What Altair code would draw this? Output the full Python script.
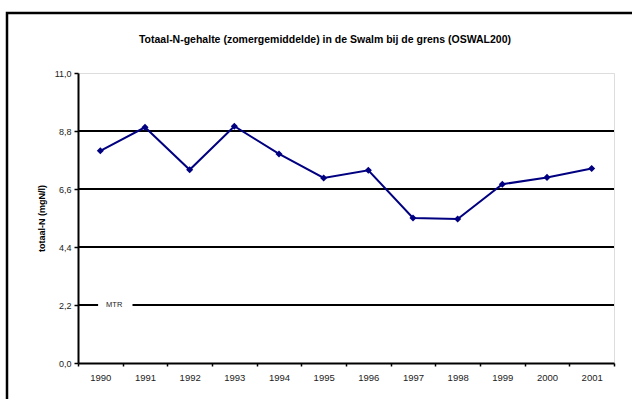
import altair as alt
import pandas as pd

# Summer-average total nitrogen in the Swalm at the border (OSWAL200)
years = [1990, 1991, 1992, 1993, 1994, 1995, 1996, 1997, 1998, 1999, 2000, 2001]
totaal_n = [8.05, 8.94, 7.33, 8.98, 7.93, 7.02, 7.31, 5.50, 5.46, 6.78, 7.04, 7.38]

y_ticks = [0.0, 2.2, 4.4, 6.6, 8.8, 11.0]
gridlines = [4.4, 6.6, 8.8]
mtr_value = 2.2
mtr_label = "MTR"

NAVY = "#000080"
FONT = "Liberation Sans"
PLOT_W = 536
PLOT_H = 290

df = pd.DataFrame({"jaar": years, "totaalN": totaal_n})

x_domain = [years[0] - 0.5, years[-1] + 0.5]
# ticks sit on the category boundaries; each label is shifted back half a category
x_values = [y + 0.5 for y in [years[0] - 1] + years]
half_band = PLOT_W / len(years) / 2

x_enc = alt.X(
    "jaar:Q",
    scale=alt.Scale(domain=x_domain, nice=False, zero=False),
    axis=alt.Axis(
        title=None,
        values=x_values,
        labelExpr=f"datum.value < {years[0]} ? '' : format(datum.value - 0.5, 'd')",
        labelOffset=-half_band,
        labelOverlap=False,
        labelFlush=False,
        labelFont=FONT,
        labelFontSize=9.5,
        labelColor="#222222",
        labelPadding=6,
        tickColor="black",
        tickSize=3,
        tickWidth=1.5,
        domainColor="black",
        domainWidth=2,
        grid=False,
    ),
)

y_enc = alt.Y(
    "totaalN:Q",
    scale=alt.Scale(domain=[0, 11], nice=False, zero=True),
    axis=alt.Axis(
        title="totaal-N (mgN/l)",
        titleFont=FONT,
        titleFontSize=9,
        titleFontWeight="bold",
        titleColor="black",
        titlePadding=8,
        values=y_ticks,
        labelExpr="replace(format(datum.value, '.1f'), '.', ',')",
        labelFlush=False,
        labelFont=FONT,
        labelFontSize=9,
        labelColor="#222222",
        labelPadding=3,
        tickColor="black",
        tickSize=4,
        tickWidth=1.5,
        domainColor="black",
        domainWidth=2,
        grid=False,
    ),
)

base = alt.Chart(df)

# outer border of the figure
frame = alt.Chart(pd.DataFrame({"k": [0]})).mark_rect(
    fill="transparent", stroke="black", strokeWidth=2.5
).encode(
    x=alt.value(-71), x2=alt.value(580), y=alt.value(-60), y2=alt.value(345)
)

grid = alt.Chart(pd.DataFrame({"g": gridlines})).mark_rule(
    color="black", strokeWidth=2
).encode(y=alt.Y("g:Q"))

# MTR reference line, interrupted by its label
mtr_segments = pd.DataFrame({
    "x0": [x_domain[0], 1990.72],
    "x1": [1989.95, x_domain[1]],
    "y": [mtr_value, mtr_value],
})
mtr_line = alt.Chart(mtr_segments).mark_rule(color="black", strokeWidth=2).encode(
    x=alt.X("x0:Q"), x2="x1:Q", y=alt.Y("y:Q")
)
mtr_text = alt.Chart(pd.DataFrame({"x": [1990.31], "y": [mtr_value], "t": [mtr_label]})).mark_text(
    font=FONT, fontSize=7.5, color="#222222", align="center", baseline="middle"
).encode(x=alt.X("x:Q"), y=alt.Y("y:Q"), text="t:N")

line = base.mark_line(
    color=NAVY,
    strokeWidth=2,
    point=alt.OverlayMarkDef(shape="diamond", size=50, filled=True, color=NAVY, opacity=1),
).encode(x=x_enc, y=y_enc)

chart = (
    alt.layer(frame, grid, mtr_line, mtr_text, line)
    .properties(
        width=PLOT_W,
        height=PLOT_H,
        padding={"left": 78, "top": 73, "right": 18, "bottom": 36},
        autosize=alt.AutoSizeParams(type="none"),
        title=alt.TitleParams(
            "Totaal-N-gehalte (zomergemiddelde) in de Swalm bij de grens (OSWAL200)",
            font=FONT,
            fontSize=10.5,
            fontWeight="bold",
            color="black",
            anchor="middle",
            frame="group",
            dx=-21,
            offset=-34,
        ),
    )
    .configure_view(stroke="#888888", strokeWidth=2)
    .configure(background="white")
)

chart.save("out.html", embed_options={"renderer": "svg", "actions": False})
